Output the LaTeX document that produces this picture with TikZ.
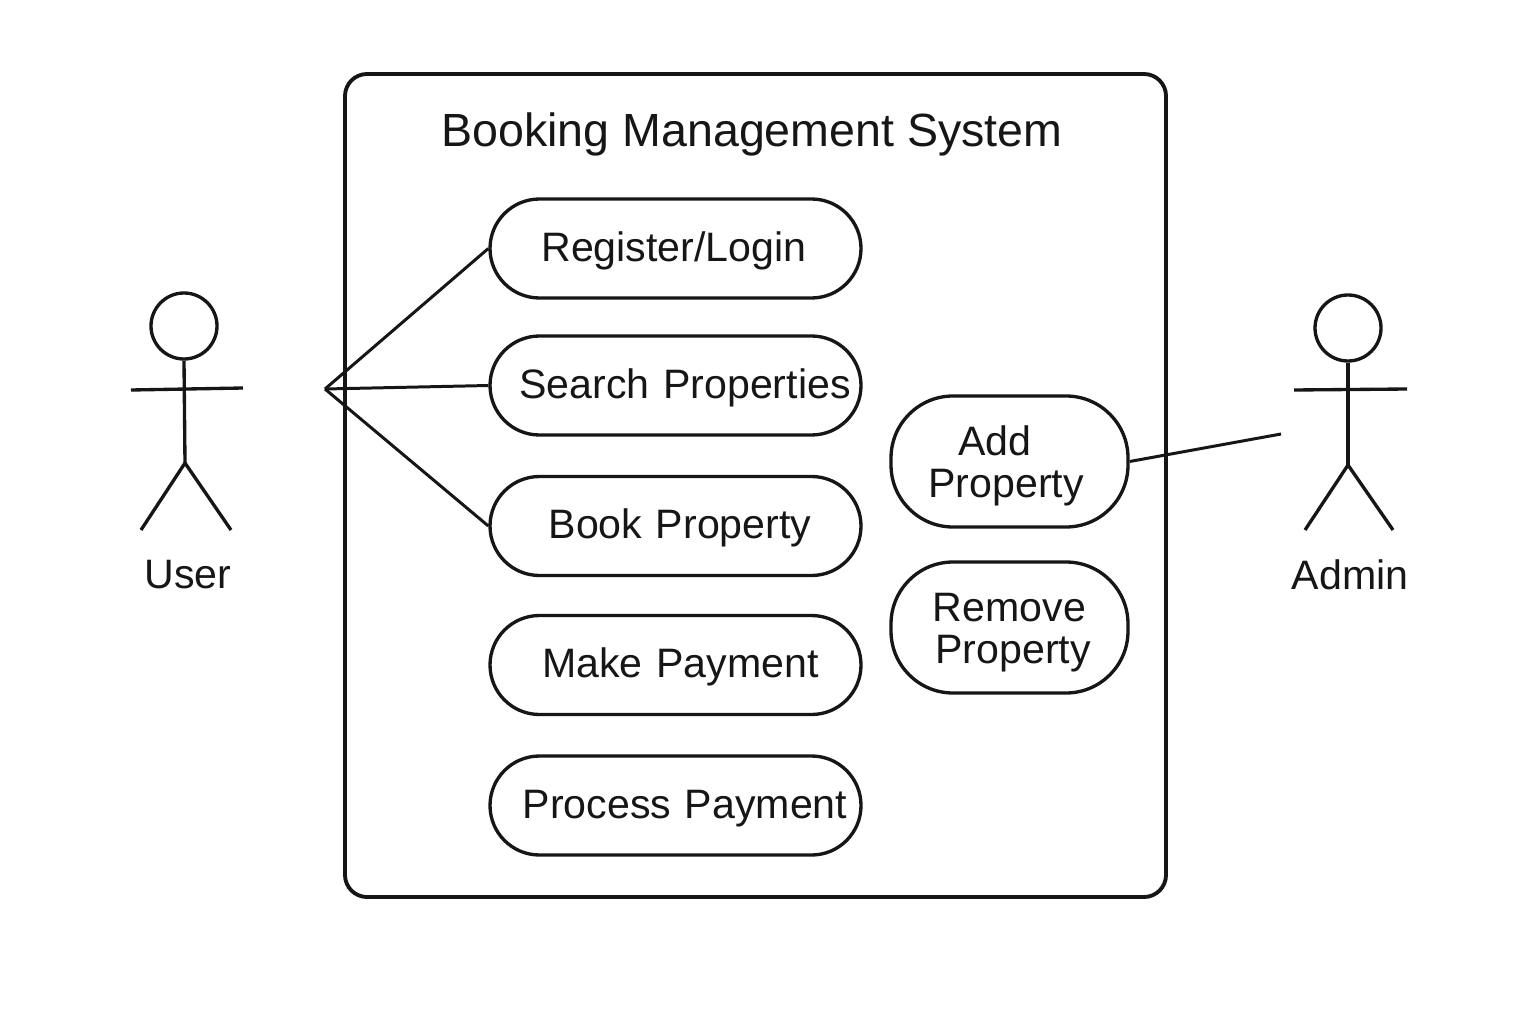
\documentclass[tikz,border=0pt]{standalone}
\usepackage{fontspec}
\setmainfont{Liberation Sans}
\definecolor{inkblack}{HTML}{161616}
\tikzset{
  sysbox/.style={draw=inkblack,line width=1.1pt,rounded corners=0.22cm,minimum width=8.21cm,minimum height=8.23cm},
  usecase/.style={draw=inkblack,line width=0.95pt,rounded corners=0.495cm,minimum width=3.71cm,minimum height=0.99cm,
    inner sep=0pt,text width=3.71cm,align=center,text=inkblack,text height=0.33cm,text depth=0.08cm,
    font=\fontsize{11.7}{11.7}\selectfont},
  tallcase/.style={usecase,rounded corners=0.62cm,minimum width=2.37cm,minimum height=1.31cm,text width=2.37cm,
    text height=0.42cm,text depth=0.55cm,font=\fontsize{11.7}{12.2}\selectfont},
  head/.style={circle,draw=inkblack,line width=0.95pt,minimum size=0.66cm,inner sep=0pt},
  stick/.style={draw=inkblack,line width=0.95pt},
  assoc/.style={draw=inkblack,line width=0.85pt},
  actorname/.style={text=inkblack,font=\fontsize{11.7}{12}\selectfont,inner sep=0pt}
}
\begin{document}
\begin{tikzpicture}
\useasboundingbox (0,0) rectangle (15.36,10.24);
\node[sysbox] (system) at (7.555,5.385) {};
\node[text=inkblack,font=\fontsize{13.25}{14}\selectfont,inner sep=0pt] (title) at (7.52,8.90) {Booking Management System};

\node[usecase] (login) at (6.755,7.755) {\hspace*{-0.03cm}Register/Login};
\node[usecase] (search) at (6.755,6.385) {\hspace*{0.19cm}Search Properties};
\node[usecase] (book) at (6.755,4.98) {\hspace*{0.09cm}Book Property};
\node[usecase] (make) at (6.755,3.59) {\hspace*{0.10cm}Make Payment};
\node[usecase] (process) at (6.755,2.185) {\hspace*{0.19cm}Process Payment};
\node[tallcase] (add) at (10.095,5.625) {\hspace*{-0.29cm}Add\\\hspace*{-0.07cm}Property};
\node[tallcase] (remove) at (10.095,3.965) {Remove\\\hspace*{0.07cm}Property};

% user
\node[head] (userhead) at (1.84,6.98) {};
\coordinate (userhip) at (1.85,5.61);
\coordinate (userarml) at (1.31,6.34);
\coordinate (userarmr) at (2.43,6.36);
\coordinate (userfootl) at (1.41,4.94);
\coordinate (userfootr) at (2.31,4.94);
\draw[stick] (userhead.south) -- (userhip);
\draw[stick] (userarml) -- (userarmr);
\draw[stick] (userfootl) -- (userhip) -- (userfootr);
\node[actorname] (username) at (1.88,4.49) {User};

% admin
\node[head] (adminhead) at (13.48,6.96) {};
\coordinate (adminhip) at (13.48,5.59);
\coordinate (adminarml) at (12.94,6.34);
\coordinate (adminarmr) at (14.07,6.35);
\coordinate (adminfootl) at (13.05,4.94);
\coordinate (adminfootr) at (13.93,4.94);
\draw[stick] (adminhead.south) -- (adminhip);
\draw[stick] (adminarml) -- (adminarmr);
\draw[stick] (adminfootl) -- (adminhip) -- (adminfootr);
\node[actorname] (adminname) at (13.50,4.49) {Admin};

% associations
\coordinate (userapex) at (3.25,6.35);
\coordinate (adminend) at (12.81,5.90);
\draw[assoc] (userapex) -- (login.west);
\draw[assoc] (userapex) -- (search.west);
\draw[assoc] (userapex) -- (book.west);
\draw[assoc] (add.east) -- (adminend);
\end{tikzpicture}
\end{document}
